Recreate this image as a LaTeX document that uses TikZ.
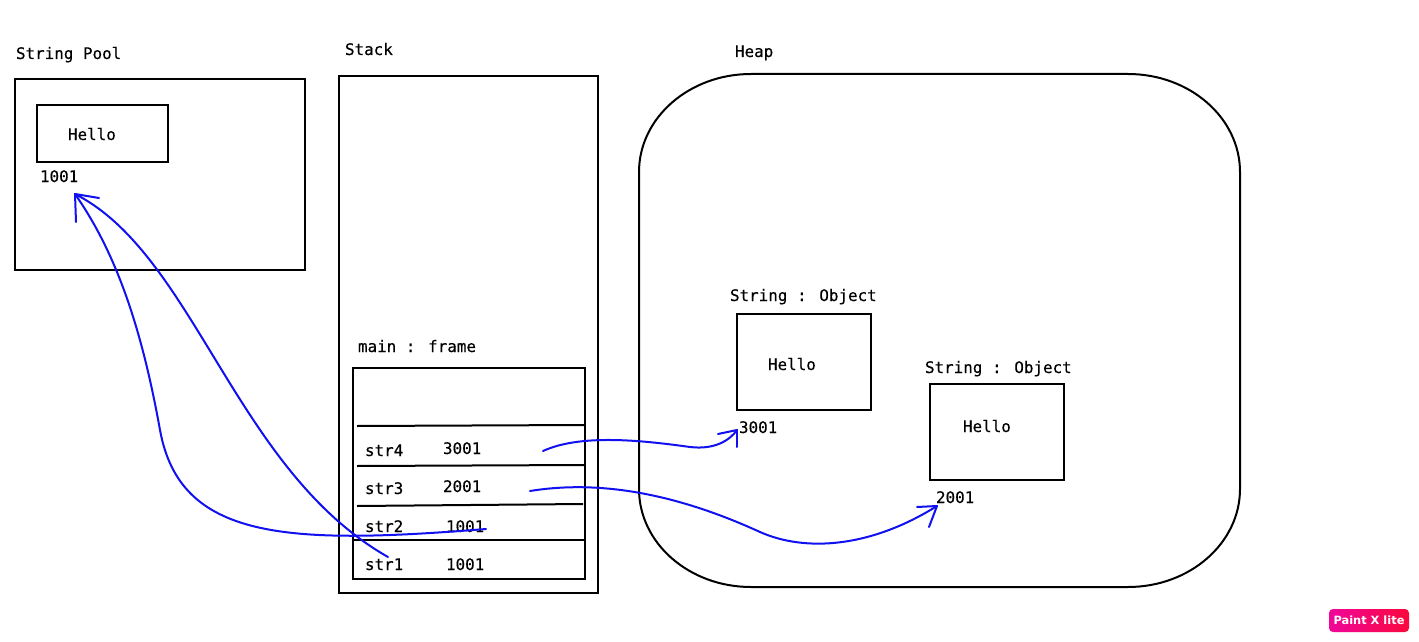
\documentclass[tikz,border=0pt]{standalone}
\usepackage{fontspec}
\setmainfont{DejaVu Sans Mono}[FakeBold=0.35]
\newfontfamily\logofont{DejaVu Sans}
\definecolor{logoL}{RGB}{240,6,154}
\definecolor{logoR}{RGB}{250,8,60}
\definecolor{arrowblue}{RGB}{16,16,240}
\begin{document}
\begin{tikzpicture}[x=1pt,y=-1pt,
  font=\fontsize{15.9}{19}\selectfont,
  box/.style={draw=black,line width=2pt,inner sep=0pt,outer sep=0pt,anchor=north west},
  lbl/.style={anchor=base west,inner sep=0pt,outer sep=0pt},
  sepline/.style={draw=black,line width=2pt},
  arr/.style={draw=arrowblue,line width=2pt,line cap=round},
  logo/.style={rounded corners=4pt,left color=logoL,right color=logoR,text=white,
    font=\logofont\bfseries\fontsize{11.4}{12}\selectfont,
    minimum width=80pt,minimum height=23pt,inner sep=0pt}]
\useasboundingbox (0,0) rectangle (1419,642);
\fill[white] (0,0) rectangle (1419,642);

% String pool
\node[lbl] (tpool) at (16,59) {String Pool};
\node[box,minimum width=290pt,minimum height=191pt] (pool) at (15,79) {};
\node[box,minimum width=131pt,minimum height=57pt] (phello) at (37,105) {};
\node[lbl] (thello0) at (68,140) {Hello};
\node[lbl] (t1001) at (40,182) {1001};

% Stack
\node[lbl] (tstack) at (345,55) {Stack};
\node[box,minimum width=259pt,minimum height=517pt] (stack) at (339,76) {};
\node[lbl] (tmain) at (358,352) {main : frame};
\node[box,minimum width=232pt,minimum height=211pt] (frame) at (353,368) {};
\draw[sepline] (357,426) -- (585,425);
\draw[sepline] (357,466) -- (585,465);
\draw[sepline] (357,506) -- (583,504);
\draw[sepline] (353,540) -- (585,540);
\node[lbl] (tstr4) at (365,456) {str4};
\node[lbl] (v4) at (443,454) {3001};
\node[lbl] (tstr3) at (365,494) {str3};
\node[lbl] (v3) at (443,492) {2001};
\node[lbl] (tstr2) at (365,532) {str2};
\node[lbl] (v2) at (446,532) {1001};
\node[lbl] (tstr1) at (365,570) {str1};
\node[lbl] (v1) at (446,570) {1001};

% Heap
\node[lbl] (theap) at (735,57) {Heap};
\draw[line width=2pt] (639,172) -- (639,489)
  .. controls (639,543) and (689,587) .. (751,587) -- (1128,587)
  .. controls (1190,587) and (1240,543) .. (1240,489) -- (1240,172)
  .. controls (1240,118) and (1190,74) .. (1128,74) -- (751,74)
  .. controls (689,74) and (639,118) .. (639,172) -- cycle;

\node[lbl] (tobj1) at (730,301) {String : Object};
\node[box,minimum width=134pt,minimum height=96pt] (obj1) at (737,314) {};
\node[lbl] (thello1) at (768,370) {Hello};
\node[lbl] (t3001) at (739,433) {3001};

\node[lbl] (tobj2) at (925,373) {String : Object};
\node[box,minimum width=134pt,minimum height=96pt] (obj2) at (930,384) {};
\node[lbl] (thello2) at (963,432) {Hello};
\node[lbl] (t2001) at (936,503) {2001};

% connectors
\coordinate (p1001) at (75,194);
\coordinate (s1) at (388,557);
\coordinate (s2) at (486,529);
\coordinate (s3) at (530,491);
\coordinate (s4) at (543,451);
\coordinate (a3001) at (737,430);
\coordinate (a2001) at (937,506);

\draw[arr] (s1) .. controls (235,470) and (195,255) .. (p1001);
\draw[arr] (s2) .. controls (286,545) and (180,540) .. (160,430)
  .. controls (142,330) and (117,254) .. (p1001);
\draw[arr] (p1001) -- ++(24,4);
\draw[arr] (p1001) -- ++(1,28);

\draw[arr] (s4) .. controls (580,434) and (640,440) .. (690,447)
  .. controls (715,450) and (730,440) .. (a3001);
\draw[arr] (a3001) -- ++(-19,4);
\draw[arr] (a3001) -- ++(0,17);

\draw[arr] (s3) .. controls (610,478) and (690,500) .. (760,532)
  .. controls (805,552) and (870,548) .. (a2001);
\draw[arr] (a2001) -- ++(-20,1);
\draw[arr] (a2001) -- ++(-8,21);

% logo
\node[logo] (logo) at (1369,620.5) {Paint X lite};
\end{tikzpicture}
\end{document}
